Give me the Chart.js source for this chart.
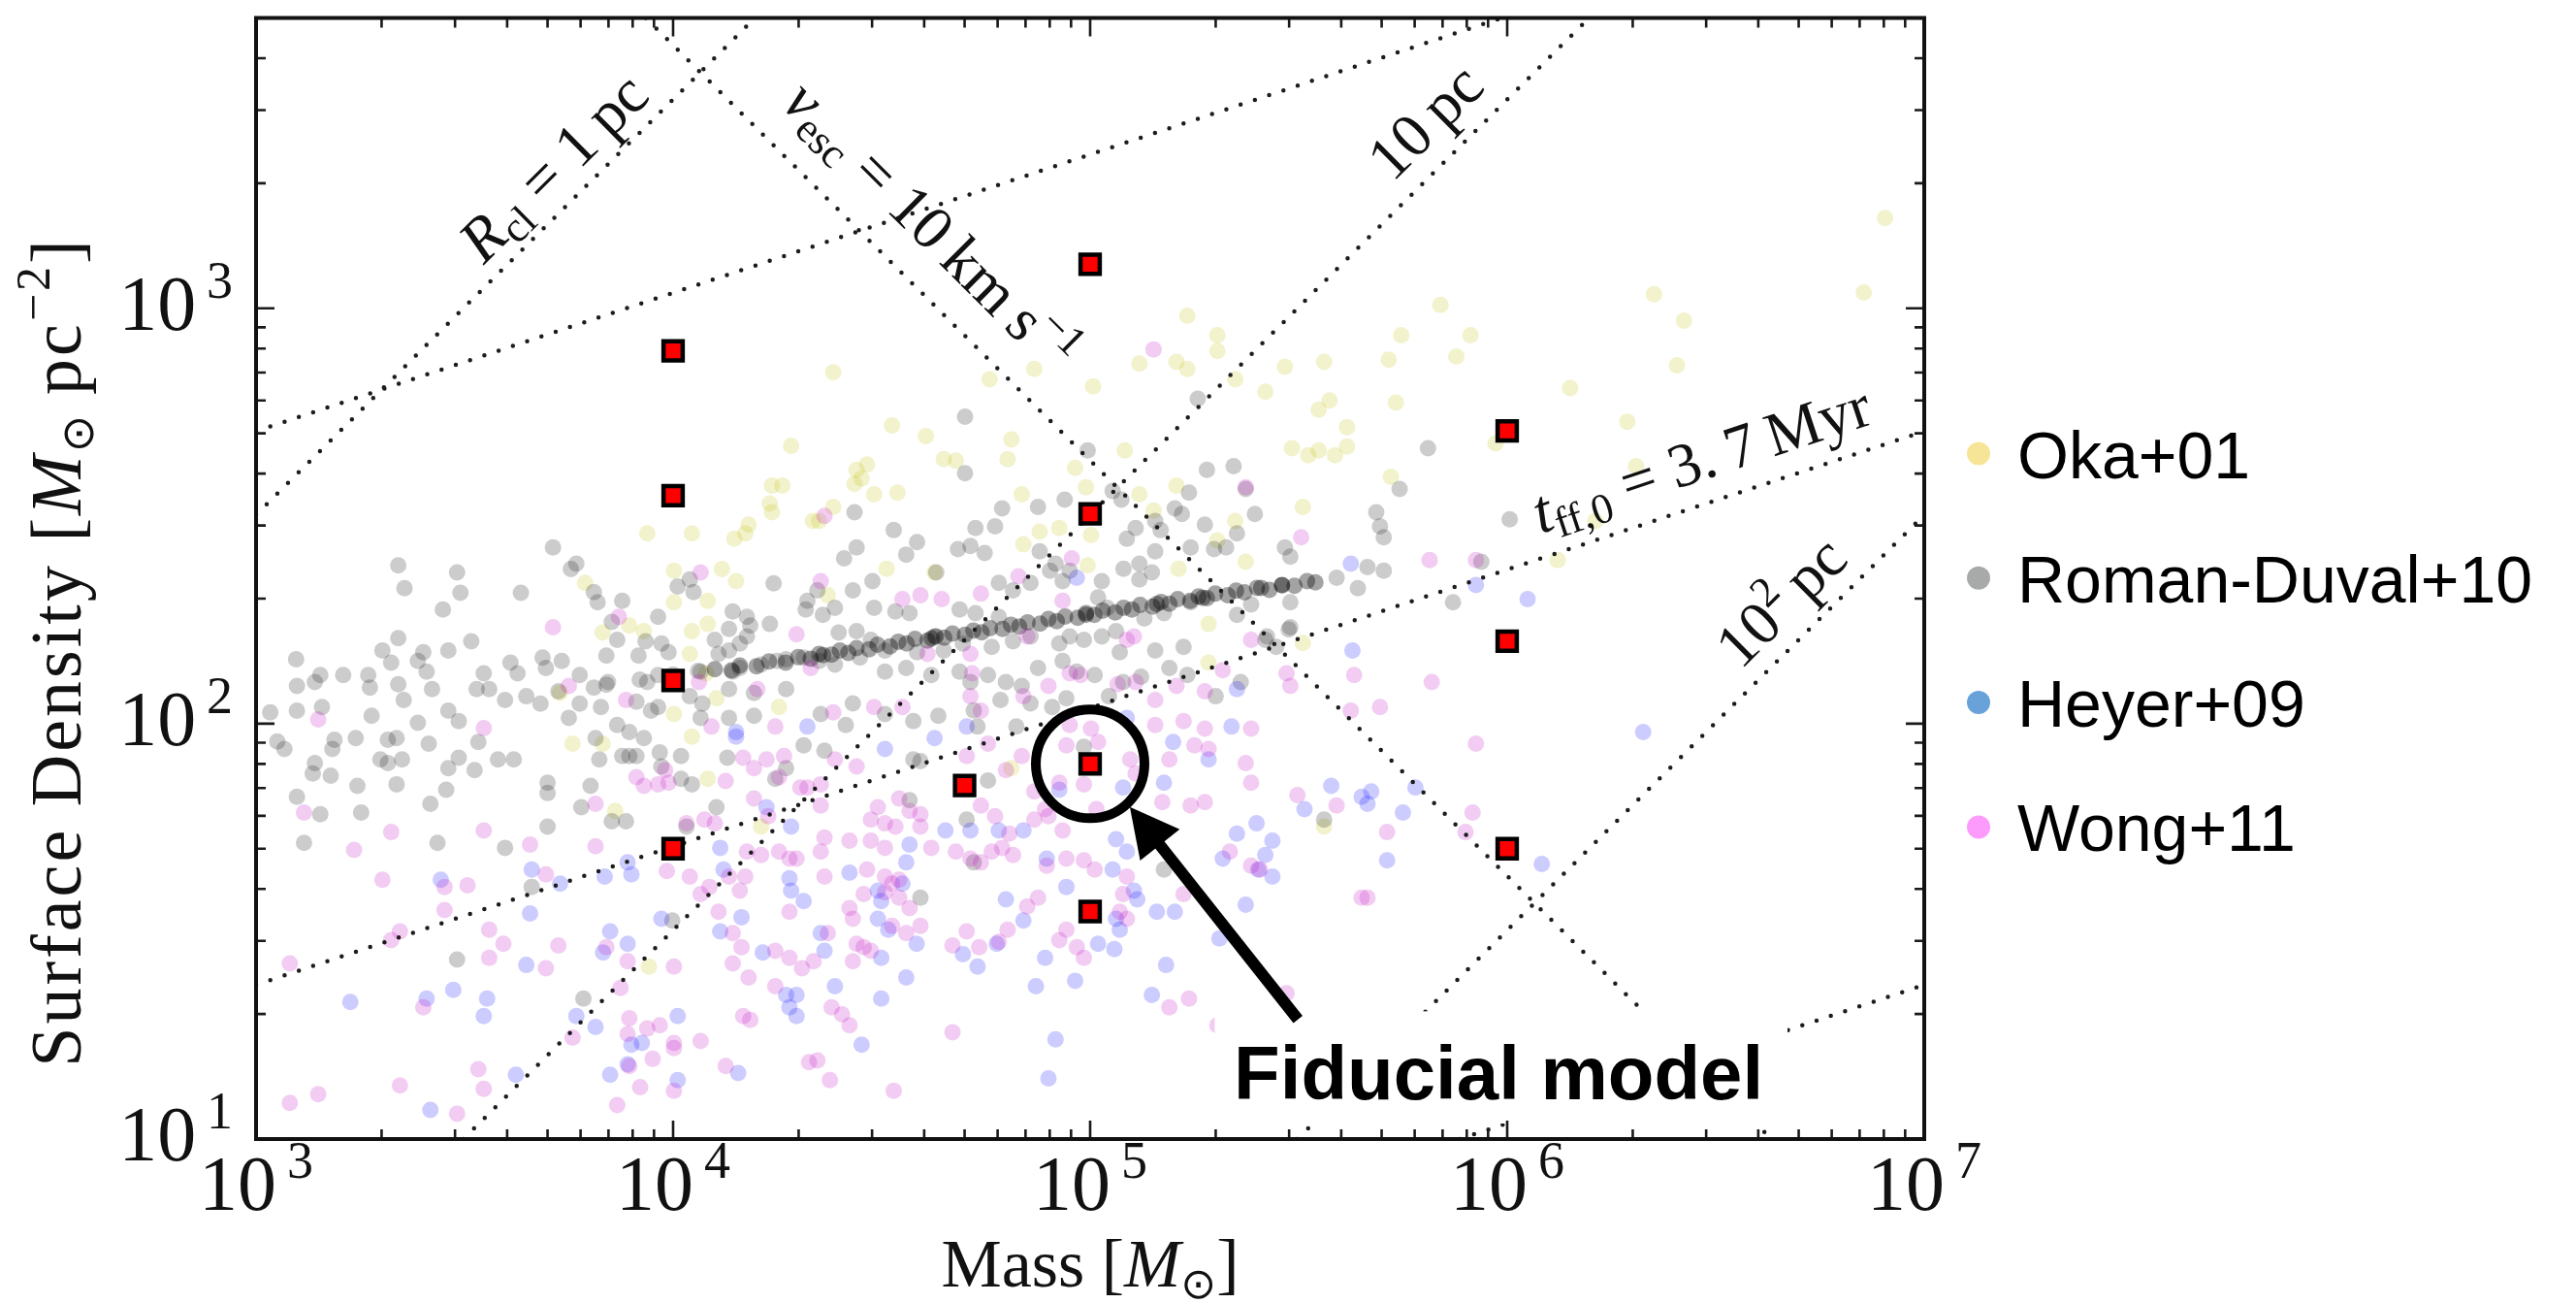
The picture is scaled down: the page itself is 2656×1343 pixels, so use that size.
<!DOCTYPE html>
<html><head><meta charset="utf-8">
<script src="https://cdn.jsdelivr.net/npm/chart.js@4.4.1/dist/chart.umd.min.js"></script>
<style>html,body{margin:0;padding:0;background:#fff;overflow:hidden}canvas{display:block}</style>
</head><body>
<canvas id="c" width="2656" height="1343"></canvas>
<script>
// ---------- DATA (pairs are [log10 Mass, log10 Surface density]) ----------
const seriesNames = ['Oka+01', 'Roman-Duval+10', 'Heyer+09', 'Wong+11'];
const legendColors = ['#f6e597', '#a8aaa9', '#69a1d9', '#fc9bfc'];

const okaLog = [
[4.283,2.669],[4.237,2.573],[4.262,2.573],[4.232,2.530],[4.237,2.509],[4.181,2.479],[4.173,2.458],[4.147,2.445],[3.938,2.458],[4.045,2.458],[4.335,2.488],[4.002,2.368],[4.117,2.372],[4.151,2.343],[4.083,2.296],[4.083,2.240],[4.045,2.223],[3.831,2.219],[3.895,2.236],[3.930,2.223],[3.789,2.339],[4.002,2.292],[4.040,2.168],[4.079,2.121],[4.104,2.061],[4.002,2.023],[3.729,2.074],[4.254,2.040],
[3.759,1.952],[3.831,1.952],[4.045,1.969],[3.861,1.790],[4.083,1.867],[4.211,1.752],[3.942,1.415],
[5.233,2.982],[5.305,2.935],[5.305,2.897],[5.118,2.867],[5.207,2.871],[5.233,2.854],[5.467,2.859],[5.561,2.871],[5.420,2.799],[5.348,2.829],[5.007,2.812],[4.866,2.854],[4.759,2.829],[4.384,2.846],[4.525,2.718],[4.606,2.692],[4.811,2.684],[4.802,2.637],[4.649,2.637],[4.678,2.633],[4.440,2.611],[4.465,2.624],[4.435,2.577],[4.452,2.590],[4.482,2.552],[4.538,2.556],[4.384,2.522],[4.350,2.488],[5.574,2.778],[5.548,2.756],[5.616,2.714],[5.616,2.667],[5.484,2.663],[5.523,2.646],[5.548,2.658],[5.587,2.646],[5.083,2.658],[4.964,2.616],[4.990,2.569],[4.836,2.552],[4.879,2.462],[4.926,2.471],[4.840,2.432],[5.002,2.454],[5.118,2.552],[5.152,2.513],[5.207,2.573],[5.510,2.522],[5.348,2.488],[5.305,2.441],[4.512,2.373],[4.627,2.364],[4.994,2.381],[5.212,2.373],[5.373,2.390],[5.284,2.240],[5.510,2.194],[5.284,2.147],[4.371,2.309],
[6.906,3.217],[6.855,3.038],[6.352,3.034],[6.424,2.970],[6.407,2.863],[5.840,3.008],[5.746,2.935],[5.912,2.935],[5.716,2.876],[5.878,2.884],[5.733,2.773],[6.151,2.808],[6.288,2.727],[6.309,2.620],[5.972,2.675],[5.721,2.594],[6.211,2.488],[6.121,2.394],
[4.811,1.893],[5.561,1.752]
];

const romanLog = [
[3.712,2.424],[3.341,2.381],[3.482,2.364],[3.356,2.326],[3.490,2.315],[3.635,2.315],[3.448,2.275],[3.755,2.372],[3.768,2.385],[3.810,2.317],[3.819,2.292],[3.878,2.296],[3.964,2.257],[4.011,2.330],[4.040,2.347],[4.049,2.317],[4.241,2.338],[4.322,2.296],[4.318,2.275],[4.143,2.270],[4.177,2.257],[4.185,2.236],[4.232,2.240],[3.853,2.245],[3.866,2.202],[3.840,2.164],[3.341,2.206],[3.303,2.176],[3.324,2.147],[3.401,2.172],[3.388,2.151],[3.409,2.125],[3.461,2.176],[3.516,2.198],[3.096,2.155],[3.154,2.117],[3.141,2.100],[3.209,2.117],[3.269,2.117],[3.098,2.091],[3.034,2.027],[3.098,2.031],[3.158,2.040],[3.273,2.087],[3.341,2.095],[3.354,2.057],[3.422,2.083],[3.461,2.031],[3.277,2.019],[3.388,2.002],[3.486,2.006],[3.546,2.121],[3.559,2.083],[3.529,2.083],[3.610,2.147],[3.627,2.121],[3.687,2.159],[3.695,2.134],[3.733,2.151],[3.597,2.057],[3.648,2.066],[3.682,2.048],[3.725,2.078],[3.776,2.117],[3.810,2.087],[3.844,2.100],[3.750,2.014],[3.776,2.048],[3.827,2.040],[3.917,2.164],[3.938,2.100],[3.964,2.117],[3.934,2.198],[3.972,2.193],[3.989,2.172],[3.912,2.053],[3.947,2.031],[3.964,2.040],[4.134,2.228],[4.160,2.193],[4.134,2.176],[4.177,2.210],[4.100,2.202],[4.109,2.168],[4.160,2.134],[4.143,2.125],[4.211,2.142],[4.249,2.151],[4.271,2.155],[4.313,2.159],[4.066,2.125],[4.134,2.083],[4.194,2.074],[4.271,2.083],[4.040,2.066],[4.070,2.048],[4.066,2.014],[4.134,2.014],[4.194,2.019],[3.866,1.997],[3.895,1.980],
[3.051,1.957],[3.188,1.961],[3.239,1.965],[3.316,1.961],[3.337,1.965],[3.414,1.952],[3.533,1.956],[3.068,1.939],[3.141,1.905],[3.183,1.939],[3.136,1.880],[3.179,1.875],[3.298,1.914],[3.316,1.905],[3.350,1.914],[3.098,1.824],[3.154,1.782],[3.115,1.713],[3.243,1.850],[3.252,1.786],[3.337,1.854],[3.418,1.807],[3.435,1.713],[3.456,1.841],[3.461,1.893],[3.486,1.918],[3.524,1.888],[3.580,1.914],[3.618,1.914],[3.597,1.701],[3.699,1.858],[3.699,1.833],[3.699,1.752],[3.780,1.799],[3.802,1.850],[3.823,1.914],[3.814,1.965],[3.853,1.765],[3.887,1.765],[3.878,1.922],[3.895,1.922],[3.912,1.922],[3.930,1.965],[3.968,1.931],[3.972,1.897],[4.019,1.922],[4.019,1.867],[4.045,1.854],[4.032,1.752],[4.104,1.799],[4.130,1.918],[4.245,1.867],[4.271,1.893],[4.313,1.948],[3.661,1.607],[3.482,1.432],[3.998,1.526],[3.785,1.338],
[4.700,2.739],[4.700,2.603],[4.435,2.509],[4.529,2.466],[4.789,2.518],[4.772,2.475],[4.725,2.471],[4.875,2.522],[4.939,2.539],[4.994,2.658],[5.054,2.560],[5.075,2.539],[5.258,2.782],[5.280,2.611],[5.344,2.620],[5.237,2.556],[5.203,2.518],[5.220,2.505],[5.275,2.479],[5.373,2.565],[5.395,2.505],[5.352,2.458],[5.156,2.488],[5.169,2.466],[5.109,2.471],[5.088,2.445],[5.156,2.415],[5.118,2.385],[5.148,2.364],[5.080,2.373],[5.118,2.347],[5.028,2.343],[5.241,2.424],[5.297,2.420],[5.326,2.424],[5.467,2.424],[5.480,2.402],[5.480,2.292],[5.480,2.232],[5.591,2.351],[5.642,2.326],[5.420,2.202],[5.446,2.185],[5.386,2.287],[4.440,2.424],[4.410,2.398],[4.559,2.407],[4.585,2.437],[4.683,2.420],[4.713,2.428],[4.747,2.411],[4.879,2.415],[4.917,2.385],[4.904,2.368],[4.951,2.368],[4.934,2.343],[4.781,2.339],[4.815,2.321],[4.857,2.339],[4.631,2.364],[4.478,2.343],[4.431,2.321],[4.346,2.321],[4.359,2.262],[4.388,2.279],[4.482,2.279],[4.533,2.270],[4.567,2.266],[4.687,2.275],[4.725,2.266],[4.781,2.257],[5.019,2.304],[5.041,2.279],[5.130,2.253],[5.177,2.266],[5.241,2.292],[5.352,2.262],[4.397,2.219],[4.440,2.223],[4.474,2.202],[4.508,2.176],[4.585,2.172],[4.627,2.210],[4.649,2.176],[4.695,2.193],[4.764,2.185],[4.815,2.198],[4.857,2.210],[4.926,2.193],[4.951,2.210],[4.985,2.202],[5.028,2.210],[5.062,2.223],[5.071,2.172],[5.156,2.176],[5.224,2.185],[5.190,2.134],[5.233,2.117],[5.301,2.066],[5.361,2.100],[5.424,2.210],[5.476,2.227],[4.350,2.151],[4.388,2.142],[4.448,2.159],[4.508,2.125],[4.559,2.134],[4.619,2.117],[4.687,2.125],[4.713,2.100],[4.755,2.117],[4.798,2.100],[4.836,2.091],[4.875,2.134],[4.934,2.151],[4.968,2.125],[5.011,2.117],[5.045,2.066],[5.079,2.100],[5.122,2.113],[4.857,2.049],[4.909,2.040],[4.943,2.061],[4.721,2.032],[4.785,2.057],[4.431,2.049],[4.508,2.023],[4.354,2.023],[4.414,1.997],[4.576,2.006],[4.636,2.019],[4.823,1.993],[4.730,1.993],
[5.810,2.663],[5.742,2.565],[5.686,2.509],[5.695,2.475],[5.704,2.449],[6.006,2.492],[5.938,2.390],[5.704,2.368],[5.665,2.377],[5.870,2.292],
[4.363,1.935],[4.576,1.914],[4.593,1.910],[4.755,1.863],[4.704,1.769],[4.721,1.666],[4.593,1.581],[4.567,1.816],[5.177,1.649],[5.561,1.769],[4.985,1.944],
[3.84,2.094],[3.92,2.106],[4.00,2.118],[4.06,2.127]
];

// the dense chain of Roman-Duval+10 clouds (darker knots are repeated entries)
const romanBandLog = [
[4.10,2.131],[4.14,2.128],[4.16,2.140],[4.20,2.138],[4.23,2.150],[4.27,2.147],[4.30,2.160],[4.33,2.156],[4.35,2.168],[4.38,2.166],[4.40,2.176],[4.42,2.170],[4.44,2.182],[4.47,2.179],[4.49,2.190],[4.52,2.186],[4.54,2.197],[4.56,2.193],[4.58,2.204],[4.61,2.200],[4.63,2.210],[4.65,2.207],[4.67,2.217],[4.70,2.214],[4.72,2.224],[4.74,2.220],[4.76,2.230],[4.79,2.228],[4.81,2.238],[4.83,2.234],[4.85,2.244],[4.88,2.241],[4.90,2.252],[4.92,2.247],[4.94,2.258],[4.97,2.255],[4.99,2.266],[5.01,2.262],[5.03,2.272],[5.06,2.268],[5.08,2.279],[5.10,2.275],[5.12,2.286],[5.15,2.282],[5.17,2.293],[5.19,2.289],[5.21,2.300],[5.24,2.296],[5.26,2.306],[5.28,2.302],[5.30,2.313],[5.33,2.309],[5.35,2.320],[5.37,2.316],[5.40,2.327],[5.43,2.322],[5.46,2.334],[5.49,2.332],[5.52,2.343],[5.54,2.340],
[4.99,2.262],[5.16,2.288],[5.27,2.303],[5.41,2.327],[5.46,2.333],[4.36,2.165],[4.62,2.205]
];

const heyerLog = [
[4.322,1.993],[4.151,1.980],
[3.226,1.330],[3.409,1.338],[3.473,1.359],[3.554,1.338],[3.546,1.296],[3.443,1.624],[3.661,1.649],[3.657,1.543],[3.648,1.419],[3.729,1.615],[3.836,1.632],[3.891,1.666],[3.900,1.637],[3.849,1.500],[3.891,1.470],[3.832,1.449],[3.768,1.296],[3.814,1.270],[3.623,1.155],[3.418,1.070],[3.900,1.227],[3.925,1.231],[3.891,1.180],[3.849,1.155],[4.011,1.296],[4.011,1.142],[3.972,1.530],[4.113,1.701],[4.121,1.649],[4.113,1.500],[4.164,1.534],[4.215,1.449],[4.224,1.799],[4.283,1.752],[4.279,1.628],[4.283,1.598],[4.313,1.573],[4.271,1.347],[4.296,1.347],[4.279,1.317],[4.296,1.296],[4.156,1.159],[4.151,1.969],
[4.968,2.351],[5.625,2.385],[5.629,2.176],[5.352,2.083],[4.704,1.993],[5.339,1.993],[5.088,2.014],
[5.925,2.334],[6.049,2.300],[6.326,1.980],
[4.627,1.965],[4.508,1.939],[5.199,1.956],[5.284,1.914],[5.177,1.858],[5.578,1.850],[5.651,1.824],[5.079,1.846],[4.926,1.841],[5.514,1.794],[5.399,1.760],[5.352,1.735],[5.437,1.718],[5.420,1.684],[5.318,1.675],[5.403,1.649],[5.437,1.632],[5.062,1.722],[5.088,1.692],[5.054,1.649],[4.943,1.607],[4.896,1.675],[4.840,1.743],[4.781,1.743],[4.713,1.743],[4.653,1.743],[4.567,1.709],[4.559,1.666],[4.550,1.615],[4.423,1.641],[4.491,1.598],[4.499,1.573],[4.354,1.496],[4.363,1.453],[4.491,1.530],[4.516,1.504],[4.584,1.470],[4.499,1.436],[4.695,1.445],[4.730,1.415],[4.776,1.470],[4.840,1.526],[4.798,1.577],[5.062,1.530],[5.071,1.504],[5.019,1.470],[5.058,1.457],[5.105,1.598],[5.113,1.577],[5.160,1.547],[5.203,1.547],[5.182,1.419],[4.892,1.436],[4.870,1.368],[4.964,1.381],[4.559,1.389],[4.388,1.368],[4.499,1.338],[4.452,1.227],[4.917,1.240],[4.900,1.146],[5.148,1.347],[5.373,1.564],[5.310,1.483],
[5.674,1.837],[5.665,1.807],[5.780,1.846],[5.750,1.786],[5.712,1.671],[6.083,1.662]
];

const wongLog = [
[4.066,2.364],[3.712,2.232],[3.870,2.257],[4.296,2.215],[4.330,2.134],[4.062,2.100],[3.750,2.091],[4.202,2.083],[3.887,2.057],[3.149,2.010],[3.546,1.989],[4.092,1.993],[4.245,1.993],
[3.115,1.786],[3.324,1.739],[3.235,1.696],[3.303,1.624],[3.081,1.423],[3.345,1.500],[3.324,1.479],[3.452,1.607],[3.507,1.611],[3.452,1.551],[3.546,1.743],[3.657,1.709],[3.695,1.637],[3.559,1.504],[3.593,1.470],[3.559,1.436],[3.725,1.466],[3.695,1.411],[3.814,1.807],[3.814,1.705],[3.401,1.317],[3.345,1.129],[3.149,1.108],[3.081,1.087],[3.533,1.168],[3.546,1.121],[3.482,1.061],[3.759,1.244],[3.840,1.462],[3.891,1.428],[3.874,1.364],[3.895,1.291],[3.891,1.253],[3.938,1.266],[3.968,1.274],[3.895,1.176],[3.951,1.193],[4.002,1.231],[4.002,1.219],[4.066,1.236],[3.921,1.125],[4.002,1.116],[3.866,1.082],[4.002,1.415],[3.985,1.645],[4.040,1.632],[3.912,1.871],[3.930,1.850],[3.964,1.854],[3.989,1.858],[3.981,1.888],[4.032,1.760],[4.075,1.769],[4.100,1.760],[4.066,1.590],[4.087,1.607],[4.109,1.547],[4.143,1.496],[4.164,1.462],[4.143,1.423],[4.181,1.389],[4.126,1.862],[4.168,1.918],[4.194,1.893],[4.224,1.914],[4.266,1.922],[4.194,1.820],[4.228,1.777],[4.254,1.871],[4.305,1.846],[4.177,1.692],[4.211,1.684],[4.254,1.692],[4.279,1.675],[4.296,1.675],[4.160,1.598],[4.173,1.632],[4.134,1.632],[4.279,1.547],[4.245,1.453],[4.279,1.436],[4.309,1.411],[4.245,1.368],[4.168,1.296],[4.185,1.287],[4.126,1.176],[4.326,1.185],[4.322,1.846],
[5.152,2.901],[5.373,2.569],[4.363,2.500],[4.354,2.343],[4.956,2.398],[4.828,2.355],[5.506,2.449],[4.550,2.300],[4.593,2.309],[4.644,2.300],[4.738,2.313],[4.934,2.296],[4.849,2.210],[5.088,2.202],[5.105,2.210],[5.386,2.202],[4.713,2.168],[4.717,2.121],[4.610,2.168],[4.951,2.121],[4.977,2.117],[5.066,2.095],[5.109,2.100],[5.156,2.057],[5.207,2.091],[5.275,2.078],[5.318,2.129],[5.471,2.121],[5.480,2.091],[5.633,2.117],[5.625,2.031],[4.900,2.091],[4.840,2.066],[4.384,2.027],[4.482,2.040],[4.550,2.040],[4.713,2.066],[4.738,2.031],[4.951,1.997],[5.002,1.988],[5.156,1.997],[5.224,2.006],[5.275,1.988],[5.386,1.988],
[5.814,2.394],[5.925,2.394],[5.819,2.100],[5.695,2.040],
[4.943,1.948],[5.019,1.956],[5.096,1.914],[5.109,1.880],[5.190,1.914],[5.250,1.948],[5.284,1.939],[5.373,1.905],[5.386,1.858],[5.173,1.811],[5.241,1.803],[5.275,1.811],[5.497,1.828],[5.651,1.581],[5.335,1.692],[5.386,1.658],[5.407,1.649],[5.224,1.590],[4.926,1.858],[4.985,1.854],[5.015,1.794],[4.866,1.837],[4.892,1.794],[4.798,1.888],[4.836,1.922],[4.755,1.952],[4.704,1.922],[4.542,1.820],[4.567,1.790],[4.593,1.782],[4.491,1.799],[4.474,1.769],[4.508,1.760],[4.440,1.897],[4.388,1.914],[4.354,1.854],[4.354,1.803],[4.363,1.726],[4.354,1.692],[4.363,1.632],[4.423,1.718],[4.474,1.718],[4.508,1.701],[4.533,1.752],[4.593,1.752],[4.619,1.701],[4.678,1.692],[4.713,1.675],[4.738,1.666],[4.764,1.692],[4.789,1.701],[4.815,1.684],[4.738,1.803],[4.772,1.777],[4.806,1.735],[4.866,1.769],[4.900,1.777],[4.934,1.743],[4.943,1.675],[4.985,1.671],[5.011,1.649],[4.896,1.658],[5.088,1.632],[5.079,1.590],[5.071,1.547],[5.088,1.530],[4.465,1.649],[4.508,1.632],[4.525,1.615],[4.542,1.624],[4.457,1.590],[4.508,1.594],[4.542,1.581],[4.567,1.556],[4.423,1.556],[4.431,1.530],[4.371,1.496],[4.525,1.513],[4.559,1.496],[4.593,1.513],[4.440,1.470],[4.457,1.462],[4.474,1.453],[4.431,1.428],[4.337,1.428],[4.670,1.466],[4.704,1.500],[4.734,1.462],[4.802,1.504],[4.781,1.475],[4.849,1.560],[4.875,1.581],[4.926,1.479],[4.943,1.504],[4.968,1.462],[4.985,1.436],[4.380,1.317],[4.405,1.300],[4.423,1.274],[4.670,1.257],[4.346,1.189],[4.376,1.142],[4.529,1.116],[5.190,1.317],[5.237,1.338],[5.471,1.351],[5.305,1.274],[5.591,1.803],
[5.925,1.952],[5.917,1.786],[5.712,1.739],[5.900,1.739],[5.665,1.581]
];

// model grid (red squares): mass [Msun] and surface density [Msun/pc^2]
const modelMass  = [1e4, 1e4, 1e4, 1e4, 5e4, 1e5, 1e5, 1e5, 1e5, 1e6, 1e6, 1e6];
const modelSigma = [790, 354, 127, 50, 71, 1276, 320, 80, 35.3, 507, 158, 50];

// reference lines (end points, [Mass, Sigma])
const lineR1pc   = [[1000, 318.3], [15708, 5000]];
const lineR10pc  = [[3142, 10], [1.571e6, 5000]];
const lineR100pc = [[3.142e5, 10], [1e7, 318.3]];
const lineVesc   = [[8600, 5000], [4.3e6, 10]];
const lineTff    = [[1000, 23.5], [1e7, 506]];
const lineTffLo  = [[1000, 506], [9.7e5, 5000]];
const lineTffHi  = [[7.7e5, 10], [1e7, 23.5]];

// axis ticks
const xTickExps = [3, 4, 5, 6, 7];
const yTickExps = [1, 2, 3];

// annotation anchors (data coordinates)
const labelR1pc  = [5200, 2168];
const labelVesc  = [4.11e4, 1563];
const label10pc  = [6.41e5, 2793];
const labelTff   = [2.93e6, 429];
const label100pc = [4.57e6, 195];
const fiducialPoint = [1e5, 80];
const arrowTail = [3.15e5, 19.4];
const arrowTip  = [1.245e5, 63];
const fiducialTextAt = [2.21e5, 12.5];
const boxLow  = [1.99e5, 10.9];
const boxHigh = [4.70e6, 20.3];

// ---------- CHART ----------
const toXY = arr => arr.map(p => ({x: Math.pow(10, p[0]), y: Math.pow(10, p[1])}));
const pairXY = arr => arr.map(p => ({x: p[0], y: p[1]}));
const SERIF = "'Liberation Serif','DejaVu Serif',serif";
const SANS = "'Liberation Sans',Arial,sans-serif";

function guide(data) {
  return {type: 'scatter', data: pairXY(data), showLine: true, pointRadius: 0, borderColor: '#1c1c1c',
    borderWidth: 4.5, borderDash: [0, 15.5], borderCapStyle: 'round', fill: false, order: 1, clip: 0};
}
function cloud(data, color, ord) {
  return {type: 'scatter', data: toXY(data), pointRadius: 8.5, pointBorderWidth: 0, backgroundColor: color,
    borderWidth: 0, order: ord, clip: 0};
}

function richDraw(ctx, segs, x, y, ang, align, dy, spacing) {
  ctx.save();
  ctx.translate(x, y); ctx.rotate(ang);
  ctx.letterSpacing = (spacing || 0) + 'px';
  const ws = segs.map(s => { ctx.font = (s[2] ? 'italic ' : '') + s[1] + 'px ' + (s[4] || SERIF); return ctx.measureText(s[0]).width; });
  const total = ws.reduce((a, b) => a + b, 0);
  let cx = align === 'center' ? -total / 2 : (align === 'right' ? -total : 0);
  ctx.textAlign = 'left'; ctx.textBaseline = 'alphabetic'; ctx.fillStyle = '#111';
  segs.forEach((s, i) => { ctx.font = (s[2] ? 'italic ' : '') + s[1] + 'px ' + (s[4] || SERIF); ctx.fillText(s[0], cx, (dy || 0) + s[3]); cx += ws[i]; });
  ctx.restore();
}

const decor = {
  id: 'decor',
  afterDatasetsDraw(chart) {
    const {ctx, chartArea: a, scales} = chart;
    const X = v => scales.x.getPixelForValue(v), Y = v => scales.y.getPixelForValue(v);
    ctx.save();
    // white box behind the annotation text
    ctx.fillStyle = '#fff';
    ctx.fillRect(X(boxLow[0]), Y(boxHigh[1]), X(boxHigh[0]) - X(boxLow[0]), Y(boxLow[1]) - Y(boxHigh[1]));

    // ticks (inward, all four sides)
    ctx.strokeStyle = '#1a1a1a'; ctx.lineWidth = 2.6; ctx.lineCap = 'butt';
    ctx.beginPath();
    for (let e = xTickExps[0]; e <= xTickExps[xTickExps.length - 1]; e++) {
      for (let k = 1; k <= 9; k++) {
        const v = k * Math.pow(10, e);
        if (v > 1e7 * 1.0001) break;
        const p = X(v), L = k === 1 ? 19 : 10;
        ctx.moveTo(p, a.bottom); ctx.lineTo(p, a.bottom - L);
        ctx.moveTo(p, a.top); ctx.lineTo(p, a.top + L);
      }
    }
    for (let e = yTickExps[0]; e <= yTickExps[yTickExps.length - 1]; e++) {
      for (let k = 1; k <= 9; k++) {
        const v = k * Math.pow(10, e);
        if (v > 5000 * 1.0001) break;
        const p = Y(v), L = k === 1 ? 19 : 10;
        ctx.moveTo(a.left, p); ctx.lineTo(a.left + L, p);
        ctx.moveTo(a.right, p); ctx.lineTo(a.right - L, p);
      }
    }
    ctx.stroke();
    // frame
    ctx.lineWidth = 4; ctx.strokeStyle = '#111';
    ctx.strokeRect(a.left, a.top, a.right - a.left, a.bottom - a.top);

    // tick labels
    xTickExps.forEach(e => richDraw(ctx, [['10', 80, 0, 0], ['\u2009' + e, 54, 0, -33]], X(Math.pow(10, e)), a.bottom + 73, 0, 'center'));
    yTickExps.forEach(e => richDraw(ctx, [['10', 80, 0, 0], ['\u2009' + e, 54, 0, -33]], a.left - 24, Y(Math.pow(10, e)) + 22, 0, 'right'));

    // axis titles
    richDraw(ctx, [['Mass [', 70, 0, 0], ['M', 70, 1, 0], ['\u2299', 44, 0, 12, "'DejaVu Sans',sans-serif"], [']', 70, 0, 0]],
      (a.left + a.right) / 2, a.bottom + 152, 0, 'center');
    richDraw(ctx, [['Surface Density [', 74, 0, 0], ['M', 74, 1, 0], ['\u2299', 46, 0, 13, "'DejaVu Sans',sans-serif"], ['\u2009pc', 74, 0, 0], ['\u22122', 50, 0, -32], [']', 74, 0, 0]],
      83, 672, -Math.PI / 2, 'center', 0, 3);

    // reference-line labels
    const angOf = l => Math.atan2(Y(l[1][1]) - Y(l[0][1]), X(l[1][0]) - X(l[0][0]));
    const F = 64, f = 44, d = 19;
    richDraw(ctx, [['R', F, 1, 0], ['cl', f, 0, 10], [' = 1\u2009pc', F, 0, 0]], X(labelR1pc[0]), Y(labelR1pc[1]), angOf(lineR1pc), 'center', d);
    richDraw(ctx, [['v', F, 1, 0], ['esc', f, 0, 10], [' = 10\u2009km\u2009s', F, 0, 0], ['\u22121', f, 0, -26]], X(labelVesc[0]), Y(labelVesc[1]), angOf(lineVesc), 'center', d);
    richDraw(ctx, [['10\u2009pc', F, 0, 0]], X(label10pc[0]), Y(label10pc[1]), angOf(lineR10pc), 'center', d);
    richDraw(ctx, [['t', F, 1, 0], ['ff,0', f, 0, 10], [' = 3.\u20097\u2009Myr', F, 0, 0]], X(labelTff[0]), Y(labelTff[1]), angOf(lineTff), 'center', d);
    richDraw(ctx, [['10', F, 0, 0], ['2', f, 0, -26], ['\u2009pc', F, 0, 0]], X(label100pc[0]), Y(label100pc[1]), angOf(lineR100pc), 'center', d);

    // fiducial circle + arrow + text
    ctx.strokeStyle = '#000'; ctx.lineWidth = 10;
    ctx.beginPath(); ctx.arc(X(fiducialPoint[0]), Y(fiducialPoint[1]), 56, 0, Math.PI * 2); ctx.stroke();
    const tx = X(arrowTip[0]), ty = Y(arrowTip[1]), sx = X(arrowTail[0]), sy = Y(arrowTail[1]);
    const len = Math.hypot(sx - tx, sy - ty), ux = (sx - tx) / len, uy = (sy - ty) / len;
    const hl = 50, hw = 26;
    ctx.lineWidth = 12;
    ctx.beginPath(); ctx.moveTo(sx, sy); ctx.lineTo(tx + ux * (hl - 4), ty + uy * (hl - 4)); ctx.stroke();
    ctx.fillStyle = '#000';
    ctx.beginPath(); ctx.moveTo(tx, ty);
    ctx.lineTo(tx + ux * hl - uy * hw, ty + uy * hl + ux * hw);
    ctx.lineTo(tx + ux * hl + uy * hw, ty + uy * hl - ux * hw);
    ctx.closePath(); ctx.fill();
    ctx.font = 'bold 78px ' + SANS; ctx.textAlign = 'left'; ctx.textBaseline = 'alphabetic';
    ctx.fillText('Fiducial model', X(fiducialTextAt[0]), Y(fiducialTextAt[1]));

    // legend
    const legendTop = 467.5, legendStep = 128.3;
    seriesNames.forEach((name, i) => {
      const cy = legendTop + i * legendStep;
      ctx.fillStyle = legendColors[i];
      ctx.beginPath(); ctx.arc(a.right + 56, cy, 12, 0, Math.PI * 2); ctx.fill();
      ctx.fillStyle = '#000'; ctx.font = '68px ' + SANS;
      ctx.fillText(name, a.right + 96, cy + 25);
    });
    ctx.restore();
  }
};

new Chart(document.getElementById('c'), {
  type: 'scatter',
  data: {
    datasets: [
      {type: 'scatter', label: 'models', data: modelMass.map((m, i) => ({x: m, y: modelSigma[i]})), pointStyle: 'rect',
        pointRadius: 14, backgroundColor: '#ff0000', borderColor: '#000', borderWidth: 4.5, order: 0, clip: 0},
      guide(lineR1pc), guide(lineR10pc), guide(lineR100pc), guide(lineVesc), guide(lineTff), guide(lineTffLo), guide(lineTffHi),
      cloud(wongLog, 'rgba(191,0,191,0.2)', 2),
      cloud(heyerLog, 'rgba(0,0,255,0.2)', 3),
      cloud(romanBandLog, 'rgba(0,0,0,0.36)', 4),
      cloud(romanLog, 'rgba(0,0,0,0.2)', 5),
      cloud(okaLog, 'rgba(191,191,0,0.2)', 6)
    ]
  },
  options: {
    responsive: false, animation: false, events: [],
    layout: {padding: {left: 264, right: 672, top: 12, bottom: 169}},
    plugins: {legend: {display: false}, tooltip: {enabled: false}},
    scales: {
      x: {type: 'logarithmic', min: 1e3, max: 1e7, display: false},
      y: {type: 'logarithmic', min: 10, max: 5000, display: false}
    }
  },
  plugins: [decor]
});
</script>
</body></html>
